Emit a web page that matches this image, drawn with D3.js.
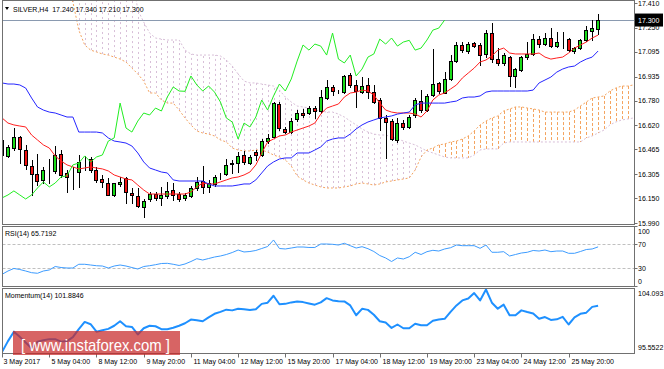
<!DOCTYPE html>
<html><head><meta charset="utf-8">
<script src="https://cdn.jsdelivr.net/npm/d3@7"></script>
<style>
body{margin:0;background:#fff;}
svg{display:block;}
text{font-family:"Liberation Sans",Arial,sans-serif;}
</style></head>
<body><svg id="c" width="664" height="369"></svg>
<script>
// ---------- DATA ----------
const opens=[16.526,16.423,16.474,16.545,16.461,16.358,16.306,16.268,16.326,16.326,
16.435,16.313,16.287,16.319,16.403,16.403,16.332,16.274,16.248,16.171,
16.242,16.281,16.184,16.164,16.093,16.145,16.177,16.152,16.164,16.203,
16.177,16.152,16.164,16.216,16.261,16.223,16.242,16.293,16.306,16.371,
16.377,16.429,16.377,16.448,16.429,16.519,16.545,16.758,16.597,16.577,
16.661,16.700,16.700,16.732,16.713,16.797,16.868,16.842,16.835,16.945,
16.881,16.835,16.881,16.835,16.784,16.668,16.648,16.526,16.635,16.610,
16.687,16.777,16.719,16.816,16.894,16.829,16.919,17.035,17.139,17.100,
17.151,17.139,17.081,17.216,17.048,17.023,17.061,16.939,16.977,17.061,
17.081,17.177,17.145,17.184,17.132,17.171,17.177,17.100,17.119,17.171,
17.230,17.240];
const highs=[16.668,16.494,16.603,16.552,16.494,16.397,16.435,16.352,16.403,16.487,
16.461,16.332,16.352,16.429,16.423,16.416,16.352,16.300,16.281,16.248,
16.287,16.287,16.216,16.216,16.145,16.190,16.190,16.223,16.255,16.248,
16.190,16.184,16.229,16.287,16.358,16.268,16.300,16.313,16.403,16.397,
16.448,16.455,16.429,16.461,16.532,16.564,16.771,16.771,16.610,16.668,
16.719,16.726,16.745,16.745,16.848,16.913,16.881,16.848,16.945,16.958,
16.913,16.932,16.926,16.881,16.797,16.687,16.661,16.668,16.655,16.687,
16.797,16.848,16.823,17.113,16.900,16.964,17.074,17.158,17.158,17.158,
17.158,17.151,17.235,17.281,17.119,17.087,17.068,16.990,17.068,17.158,
17.210,17.197,17.216,17.248,17.223,17.223,17.184,17.126,17.177,17.261,
17.300,17.340];
const lows=[16.365,16.416,16.461,16.377,16.339,16.171,16.235,16.248,16.248,16.313,
16.287,16.190,16.210,16.223,16.332,16.319,16.255,16.223,16.171,16.164,
16.229,16.119,16.119,16.093,16.029,16.132,16.139,16.106,16.152,16.139,
16.132,16.139,16.158,16.203,16.184,16.190,16.229,16.274,16.300,16.313,
16.319,16.371,16.371,16.397,16.423,16.506,16.545,16.590,16.571,16.571,
16.648,16.674,16.693,16.668,16.700,16.790,16.816,16.829,16.829,16.868,
16.739,16.829,16.797,16.764,16.590,16.410,16.526,16.513,16.597,16.603,
16.674,16.706,16.713,16.810,16.829,16.829,16.913,17.029,17.094,17.087,
17.126,17.010,17.061,17.029,17.010,17.010,16.874,16.868,16.971,17.048,
17.074,17.126,17.139,17.126,17.126,17.119,17.100,17.087,17.113,17.164,
17.171,17.210];
const closes=[16.429,16.481,16.545,16.468,16.365,16.306,16.261,16.332,16.328,16.429,
16.300,16.287,16.289,16.384,16.405,16.332,16.268,16.255,16.171,16.248,
16.255,16.190,16.171,16.100,16.132,16.177,16.152,16.171,16.197,16.171,
16.145,16.171,16.216,16.255,16.223,16.248,16.287,16.295,16.365,16.377,
16.423,16.384,16.416,16.429,16.519,16.539,16.764,16.603,16.577,16.648,
16.700,16.687,16.732,16.713,16.803,16.868,16.842,16.840,16.939,16.881,
16.842,16.874,16.835,16.771,16.668,16.642,16.532,16.635,16.610,16.674,
16.784,16.719,16.810,16.887,16.842,16.919,17.035,17.139,17.106,17.145,
17.132,17.074,17.216,17.048,17.023,17.074,16.939,16.984,17.061,17.081,
17.177,17.145,17.184,17.132,17.158,17.169,17.106,17.119,17.171,17.235,
17.248,17.300];
const tenkan=[16.668,16.635,16.623,16.616,16.610,16.558,16.526,16.494,16.474,16.423,
16.390,16.365,16.352,16.339,16.345,16.352,16.345,16.339,16.326,16.300,
16.287,16.274,16.268,16.235,16.203,16.177,16.177,16.177,16.177,16.177,
16.177,16.177,16.190,16.223,16.248,16.242,16.242,16.255,16.268,16.281,
16.287,16.300,16.319,16.365,16.442,16.513,16.532,16.552,16.558,16.577,
16.590,16.603,16.616,16.635,16.693,16.732,16.745,16.758,16.803,16.829,
16.835,16.848,16.842,16.816,16.764,16.719,16.706,16.700,16.700,16.700,
16.693,16.674,16.713,16.784,16.816,16.829,16.855,16.881,16.926,16.958,
16.990,17.029,17.042,17.068,17.106,17.119,17.087,17.081,17.081,17.081,
17.081,17.087,17.061,17.048,17.055,17.061,17.087,17.119,17.139,17.158,
17.184,17.203];
const kijun=[16.894,16.887,16.887,16.881,16.861,16.797,16.739,16.719,16.706,16.700,
16.687,16.674,16.674,16.577,16.577,16.577,16.577,16.571,16.539,16.519,
16.513,16.506,16.487,16.442,16.384,16.345,16.332,16.319,16.313,16.268,
16.261,16.261,16.261,16.261,16.261,16.242,16.229,16.229,16.229,16.229,
16.235,16.242,16.242,16.268,16.313,16.358,16.384,16.403,16.410,16.410,
16.442,16.442,16.442,16.461,16.481,16.519,16.532,16.539,16.539,16.564,
16.597,16.623,16.642,16.655,16.668,16.674,16.681,16.693,16.700,16.706,
16.752,16.764,16.764,16.764,16.764,16.764,16.771,16.777,16.797,16.803,
16.803,16.810,16.835,16.842,16.842,16.842,16.842,16.842,16.842,16.842,
16.848,16.894,16.913,16.932,16.964,16.984,16.997,17.003,17.029,17.048,
17.061,17.100];
const senkouA=[17.800,17.780,17.760,17.740,17.720,17.700,17.660,17.620,17.580,17.550,
17.520,17.470,17.416,17.235,17.139,17.106,17.094,17.081,17.074,17.061,
17.048,17.029,16.990,16.952,16.906,16.829,16.829,16.784,16.764,16.764,
16.719,16.668,16.623,16.584,16.571,16.564,16.552,16.526,16.513,16.474,
16.461,16.455,16.455,16.461,16.461,16.448,16.429,16.416,16.397,16.358,
16.294,16.268,16.248,16.235,16.223,16.216,16.216,16.216,16.223,16.229,
16.242,16.248,16.242,16.235,16.242,16.255,16.261,16.268,16.274,16.281,
16.332,16.416,16.461,16.474,16.494,16.500,16.513,16.519,16.532,16.552,
16.584,16.623,16.648,16.668,16.681,16.713,16.726,16.739,16.739,16.732,
16.726,16.719,16.706,16.706,16.706,16.706,16.706,16.719,16.745,16.771,
16.797,16.803,16.810,16.842,16.861,16.874,16.874,16.881];
const senkouB=[17.600,17.600,17.600,17.600,17.600,17.600,17.600,17.600,17.600,17.600,
17.600,17.600,17.600,17.600,17.600,17.600,17.600,17.600,17.600,17.600,
17.600,17.600,17.600,17.365,17.287,17.216,17.184,17.177,17.171,17.171,
17.171,17.106,17.081,17.074,17.074,17.074,17.074,17.068,17.042,17.003,
16.952,16.906,16.894,16.894,16.887,16.881,16.874,16.848,16.803,16.771,
16.745,16.739,16.732,16.719,16.713,16.706,16.706,16.693,16.674,16.648,
16.623,16.597,16.577,16.564,16.558,16.558,16.545,16.532,16.519,16.506,
16.494,16.474,16.455,16.442,16.429,16.416,16.410,16.410,16.410,16.410,
16.429,16.461,16.468,16.468,16.468,16.506,16.513,16.513,16.513,16.513,
16.513,16.513,16.513,16.513,16.513,16.513,16.513,16.513,16.513,16.539,
16.552,16.571,16.590,16.623,16.642,16.655,16.661,16.668];
const rsi=[20.0,25.5,29.7,28.0,25.5,22.7,21.7,25.5,27.2,33.0,
31.3,30.5,30.5,36.7,36.7,35.5,34.3,33.8,30.5,33.8,
35.5,33.8,31.3,28.8,33.0,34.3,36.0,38.0,38.3,36.7,
34.7,37.2,41.3,46.0,43.8,46.3,48.8,50.5,53.0,56.3,
60.5,57.2,58.0,59.7,63.0,66.3,77.2,63.0,62.2,63.8,
65.5,65.5,64.7,64.7,70.5,70.5,70.0,68.8,71.7,67.7,
63.8,66.0,62.7,58.0,51.3,47.2,41.3,47.2,45.5,49.3,
56.7,53.0,57.7,60.0,58.8,62.2,64.3,68.8,67.7,67.7,
67.7,63.3,68.8,56.7,56.7,57.7,50.5,53.0,55.5,56.7,
59.7,58.8,60.5,57.7,58.8,58.8,55.0,55.0,58.0,61.3,
62.2,65.7192];
const momentum=[95.56,97.04,98.33,97.62,96.84,96.05,96.97,97.17,97.31,97.31,
96.97,97.04,97.58,98.67,99.66,99.35,98.33,98.53,98.71,99.14,
99.75,99.07,98.98,97.95,98.80,99.14,99.07,98.67,98.67,98.87,
99.14,99.48,99.98,99.89,99.75,100.29,100.77,101.04,101.34,101.24,
101.47,101.38,101.28,101.38,102.13,102.29,103.24,102.08,102.13,102.33,
102.44,102.37,102.19,102.02,102.33,102.91,102.60,102.50,102.47,101.92,
100.57,101.45,101.31,100.64,99.75,99.58,98.84,99.31,98.80,98.80,
99.41,99.21,99.21,99.82,100.00,100.09,101.04,101.92,102.60,102.87,
103.60,102.60,104.09,102.29,101.47,102.02,100.57,100.57,101.24,101.01,
100.81,100.09,100.33,99.93,100.02,100.36,99.31,100.29,100.77,100.93,
101.72,101.8846];
const priceTicks=[17.410,17.250,17.095,16.935,16.780,16.620,16.465,16.305,16.150,15.990];
const priceTickLabels=["17.410","17.250","17.095","16.935","16.780","16.620","16.465","16.305","16.150","15.990"];
const lastPrice=17.300, lastPriceLabel="17.300";
const rsiLevels=[70,30];
const rsiTickLabels=["100","70","30","0"];
const rsiTickValues=[100,70,30,0];
const momTickValues=[104.093,95.5522];
const momTickLabels=["104.093","95.5522"];
const timeLabelBars=[0,8,16,24,32,40,48,56,64,72,80,88,96];
const timeLabels=["3 May 2017","5 May 04:00","8 May 12:00","9 May 20:00","11 May 04:00","12 May 12:00","15 May 20:00","17 May 04:00","18 May 12:00","19 May 20:00","23 May 04:00","24 May 12:00","25 May 20:00"];
const mainTitle="SILVER,H4  17.240 17.340 17.210 17.300";
const rsiTitle="RSI(14) 65.7192";
const momTitle="Momentum(14) 101.8846";
const chikouShift=26;

// ---------- LAYOUT ----------
const svg=d3.select("#c");
const L=2.5,R=634.5;
const P={main:[0.5,224.5],rsi:[226.5,286.5],mom:[288.5,353.5]};
const x=d3.scaleLinear().domain([0,101]).range([2.08,598.1]);
const y=d3.scaleLinear().domain([15.990,17.410]).range([223,3]);
const yr=d3.scaleLinear().domain([0,100]).range([286.3,226.3]);
const ym=d3.scaleLinear().domain([95.5522,104.093]).range([352,289.5]);

const defs=svg.append("defs");
function clip(id,t,b){defs.append("clipPath").attr("id",id).append("rect").attr("x",3).attr("y",t+0.5).attr("width",R-3.5).attr("height",b-t-1);}
clip("cm",P.main[0],P.main[1]);clip("cr",P.rsi[0],P.rsi[1]);clip("cmo",P.mom[0],P.mom[1]);

// frames
Object.values(P).forEach(([t,b])=>{
  svg.append("rect").attr("x",L).attr("y",t).attr("width",R-L).attr("height",b-t)
    .attr("fill","none").attr("stroke","#707070").attr("stroke-width",1);
});

// ---------- MAIN PANE ----------
const gm=svg.append("g").attr("clip-path","url(#cm)");
const idxCloud=d3.range(senkouA.length);
// cloud hatch
gm.append("g").selectAll("line").data(idxCloud).join("line")
  .attr("x1",i=>Math.round(x(i))+0.5).attr("x2",i=>Math.round(x(i))+0.5)
  .attr("y1",i=>y(senkouA[i])).attr("y2",i=>y(senkouB[i]))
  .attr("stroke",i=>senkouA[i]>=senkouB[i]?"#F4A460":"#D8BFD8")
  .attr("stroke-width",1).attr("stroke-dasharray",i=>senkouA[i]>=senkouB[i]?"3,2":"2,3");
const lineA=d3.line().x((d,i)=>x(i)).y(d=>y(d));
gm.append("path").attr("d",lineA(senkouA)).attr("fill","none").attr("stroke","#F4A460").attr("stroke-width",1).attr("stroke-dasharray","2,2");
gm.append("path").attr("d",lineA(senkouB)).attr("fill","none").attr("stroke","#D8BFD8").attr("stroke-width",1).attr("stroke-dasharray","2,2");

// bid line
gm.append("line").attr("x1",L).attr("x2",R).attr("y1",Math.round(y(lastPrice))+0.5).attr("y2",Math.round(y(lastPrice))+0.5)
  .attr("stroke","#8a9ab0").attr("stroke-width",1);

// candles
const idx=d3.range(closes.length);
const gc=gm.append("g");
gc.selectAll("line.w").data(idx).join("line").attr("class","w")
  .attr("x1",i=>Math.round(x(i))+0.5).attr("x2",i=>Math.round(x(i))+0.5)
  .attr("y1",i=>Math.round(y(highs[i]))).attr("y2",i=>Math.round(y(lows[i]))+1)
  .attr("stroke","#000").attr("stroke-width",1);
gc.selectAll("rect.b").data(idx).join("rect").attr("class","b")
  .attr("x",i=>Math.round(x(i))-1.5).attr("width",3)
  .attr("y",i=>Math.round(y(Math.max(opens[i],closes[i])))+0.5)
  .attr("height",i=>Math.max(0,Math.round(y(Math.min(opens[i],closes[i])))-Math.round(y(Math.max(opens[i],closes[i])))))
  .attr("fill",i=>closes[i]>=opens[i]?"#19dc19":"#ee1111")
  .attr("stroke","#000").attr("stroke-width",1);

// ichimoku lines
const ln=d3.line().x((d,i)=>x(i)).y(d=>y(d));
gm.append("path").attr("d",ln(tenkan)).attr("fill","none").attr("stroke","#ff2020").attr("stroke-width",1);
gm.append("path").attr("d",ln(kijun)).attr("fill","none").attr("stroke","#2626ff").attr("stroke-width",1);
const chik=d3.line().x((d,i)=>x(i-chikouShift)).y(d=>y(d));
gm.append("path").attr("d",chik(closes)).attr("fill","none").attr("stroke","#22ee22").attr("stroke-width",1);

// title
svg.append("path").attr("d","M5,7 L9,7 L7,10 Z").attr("fill","#000");
svg.append("text").attr("x",13).attr("y",11.5).attr("font-size",7).attr("fill","#000").attr("xml:space","preserve").text(mainTitle);

// price axis
const ga=svg.append("g");
priceTicks.forEach((v,k)=>{
  const yy=y(v);
  ga.append("line").attr("x1",R).attr("x2",R+3).attr("y1",Math.round(yy)+0.5).attr("y2",Math.round(yy)+0.5).attr("stroke","#707070");
  ga.append("text").attr("x",638).attr("y",yy+2.5).attr("font-size",7).attr("fill","#000").text(priceTickLabels[k]);
});
const yl=y(lastPrice);
ga.append("rect").attr("x",635).attr("y",yl-6.5).attr("width",28).attr("height",13).attr("fill","#000");
ga.append("text").attr("x",638).attr("y",yl+2.5).attr("font-size",7).attr("fill","#fff").text(lastPriceLabel);

// ---------- RSI PANE ----------
const gr=svg.append("g").attr("clip-path","url(#cr)");
rsiLevels.forEach(v=>{
  gr.append("line").attr("x1",L).attr("x2",R).attr("y1",Math.round(yr(v))+0.5).attr("y2",Math.round(yr(v))+0.5)
    .attr("stroke","#c0c0c0").attr("stroke-dasharray","3,2");
});
gr.append("path").attr("d",d3.line().x((d,i)=>x(i)).y(d=>yr(d))(rsi)).attr("fill","none").attr("stroke","#3d9cff").attr("stroke-width",1);
svg.append("text").attr("x",5).attr("y",235.5).attr("font-size",7).attr("fill","#000").text(rsiTitle);
rsiTickValues.forEach((v,k)=>{
  const yy=Math.min(P.rsi[1]-5,Math.max(P.rsi[0]+4.5,yr(v)));
  svg.append("line").attr("x1",R).attr("x2",R+3).attr("y1",Math.round(yr(v))+0.5).attr("y2",Math.round(yr(v))+0.5).attr("stroke","#707070");
  svg.append("text").attr("x",638).attr("y",yy+2.5).attr("font-size",7).attr("fill","#000").text(rsiTickLabels[k]);
});

// ---------- MOMENTUM PANE ----------
const gmo=svg.append("g").attr("clip-path","url(#cmo)");
gmo.append("path").attr("d",d3.line().x((d,i)=>x(i)).y(d=>ym(d))(momentum)).attr("fill","none").attr("stroke","#1e90ff").attr("stroke-width",2).attr("stroke-linejoin","round");
svg.append("text").attr("x",5).attr("y",298).attr("font-size",7).attr("fill","#000").text(momTitle);
momTickValues.forEach((v,k)=>{
  const yy=Math.min(P.mom[1]-6,Math.max(P.mom[0]+5,ym(v)));
  svg.append("text").attr("x",638).attr("y",yy+2.5).attr("font-size",7).attr("fill","#000").text(momTickLabels[k]);
});

// ---------- TIME AXIS ----------
timeLabelBars.forEach((b,k)=>{
  const xx=Math.round(x(b))+0.5;
  svg.append("line").attr("x1",xx).attr("x2",xx).attr("y1",P.mom[1]).attr("y2",P.mom[1]+4).attr("stroke","#707070");
  svg.append("text").attr("x",xx+(k===0?1:2)).attr("y",364).attr("font-size",7).attr("fill","#000").text(timeLabels[k]);
});

// ---------- WATERMARK ----------
svg.append("rect").attr("x",13).attr("y",331).attr("width",167).attr("height",24).attr("fill","#c82828").attr("opacity",0.72);
svg.append("text").attr("x",21).attr("y",351).attr("font-size",17).attr("fill","#fff")
  .attr("textLength",149).attr("lengthAdjust","spacingAndGlyphs").attr("xml:space","preserve").text("[ www.instaforex.com ]");
</script>
</body></html>
